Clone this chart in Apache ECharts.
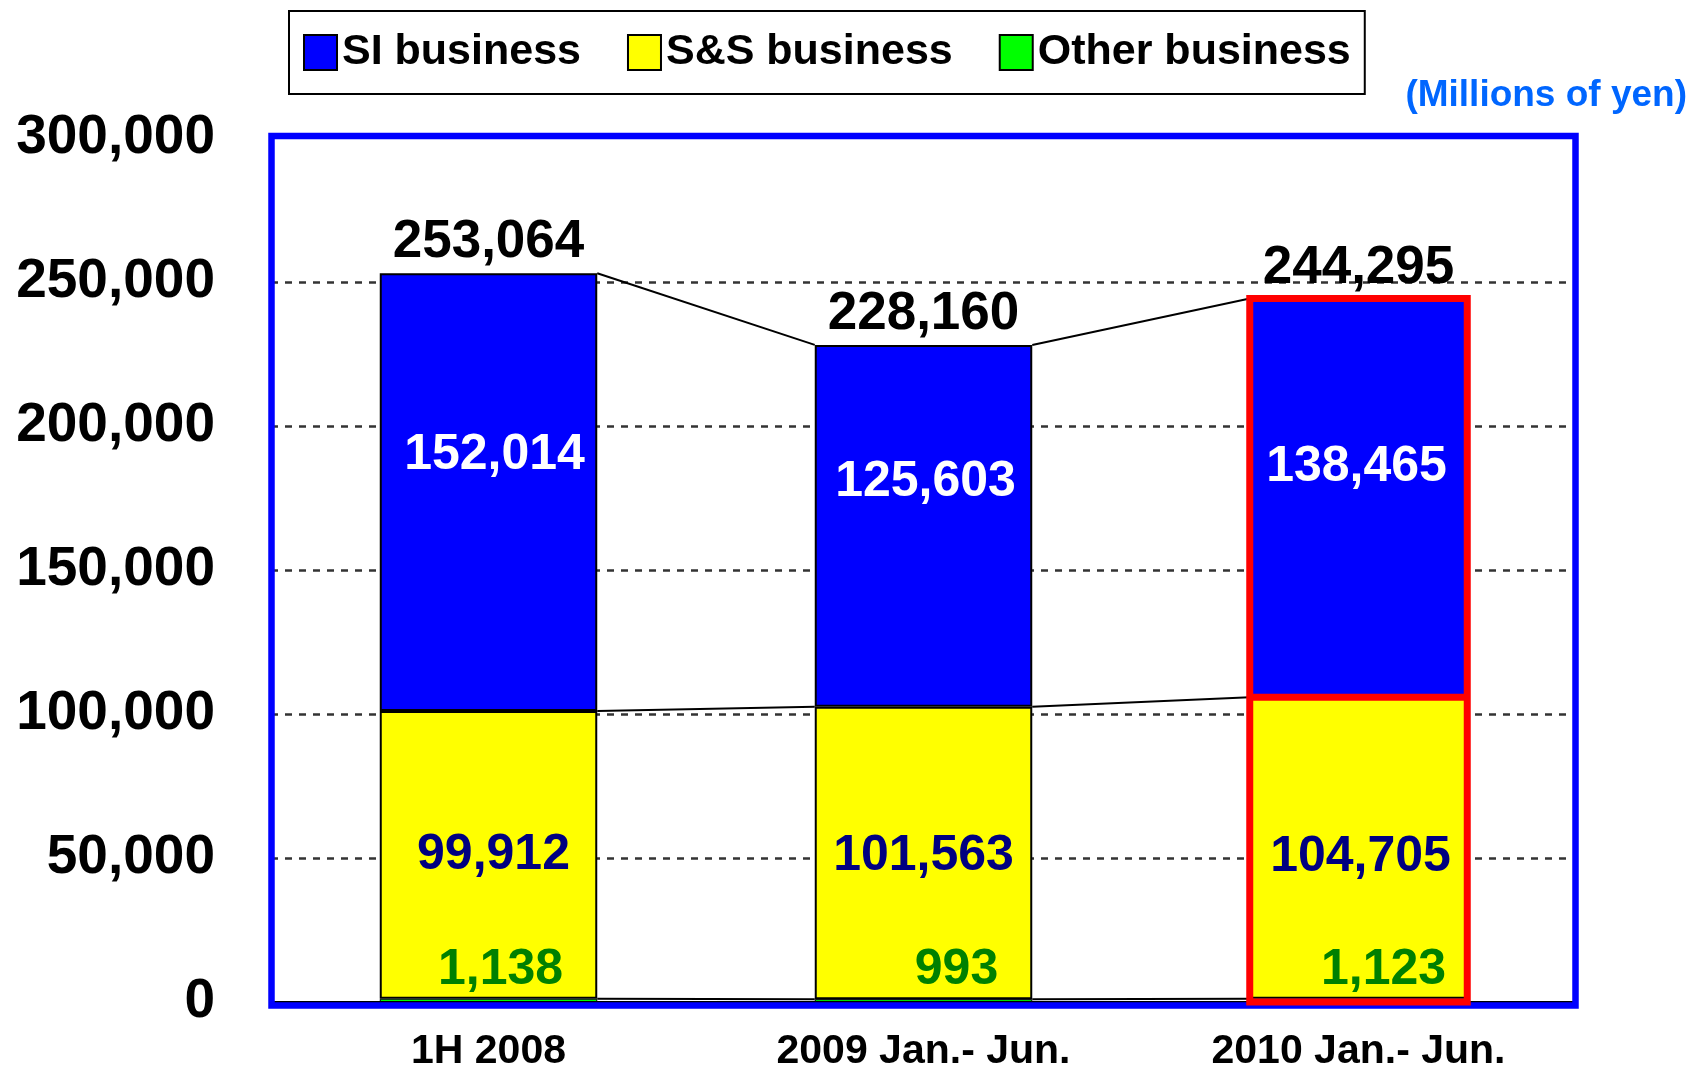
<!DOCTYPE html>
<html>
<head>
<meta charset="utf-8">
<title>Net sales by segment</title>
<script src="https://cdn.jsdelivr.net/npm/echarts@6/dist/echarts.min.js"></script>
<style>
	html, body { margin: 0; padding: 0; background: #fff; }
	#main { width: 1692px; height: 1069px; }
</style>
</head>
<body>
<div id="main"></div>
<script>
	var categories = ['1H 2008', '2009 Jan.- Jun.', '2010 Jan.- Jun.'];
	var siValues = [152014, 125603, 138465];
	var ssValues = [99912, 101563, 104705];
	var otherValues = [1138, 993, 1123];
	var totals = [253064, 228160, 244295];
	var yTicks = [0, 50000, 100000, 150000, 200000, 250000, 300000];

	// label placement tweaks (styles only, not data)
	var siLabelPos = ['41.5%', '37.4%', '42.2%'];
	var siLabelShift = [[6, 0], [2, 2], [-2, 0]];
	var ssLabelShift = [[5, 0], [0, 3], [2, 9]];
	var otherLabelShift = [12, 33, 25];

	var FONT = '"Liberation Sans", Arial, sans-serif';
	var highlightIndex = 2;

	function fmt(v) {
		return Number(v).toLocaleString('en-US');
	}

	function withLabel(arr, labelFn) {
		return arr.map(function (v, i) {
			return { value: v, label: labelFn(i) };
		});
	}

	// stack tops for the connector lines
	var connectorData = categories.map(function (c, i) {
		var t1 = otherValues[i];
		var t2 = t1 + ssValues[i];
		var t3 = t2 + siValues[i];
		return [i, t1, t2, t3];
	});
	var totalData = totals.map(function (v, i) { return [i, v]; });

	var chart = echarts.init(document.getElementById('main'));

	var option = {
		animation: false,
		textStyle: { fontFamily: FONT },
		title: {
			text: '(Millions of yen)',
			right: 5,
			top: 77,
			padding: 0,
			textStyle: {
				color: '#0066ff',
				fontSize: 37,
				fontWeight: 'bold',
				fontFamily: FONT
			}
		},
		legend: {
			data: ['SI business', 'S&S business', 'Other business'],
			icon: 'rect',
			left: 289,
			top: 11,
			padding: [20, 14, 20, 14],
			itemGap: 46,
			itemWidth: 33,
			itemHeight: 35,
			borderColor: '#000',
			borderWidth: 2,
			itemStyle: { borderColor: '#000', borderWidth: 2 },
			textStyle: {
				color: '#000',
				fontSize: 43,
				fontWeight: 'bold',
				fontFamily: FONT
			}
		},
		graphic: [{
			type: 'rect',
			z: 1,
			shape: { x: 271.5, y: 136, width: 1304, height: 869.5 },
			style: { fill: 'none', stroke: '#0000ff', lineWidth: 6.5 }
		}],
		grid: {
			left: 271,
			right: 116,
			top: 138,
			bottom: 67,
			containLabel: false,
			outerBoundsMode: 'none'
		},
		xAxis: {
			type: 'category',
			data: categories,
			axisLine: { show: true, lineStyle: { color: '#000', width: 2 } },
			axisTick: { show: false },
			axisLabel: {
				margin: 29,
				color: '#000',
				fontSize: 41,
				fontWeight: 'bold',
				fontFamily: FONT
			}
		},
		yAxis: {
			type: 'value',
			min: yTicks[0],
			max: yTicks[yTicks.length - 1],
			interval: yTicks[1] - yTicks[0],
			axisLine: { show: false },
			axisTick: { show: false },
			axisLabel: {
				margin: 56,
				color: '#000',
				fontSize: 55,
				fontWeight: 'bold',
				fontFamily: FONT,
				formatter: function (v) { return fmt(v); }
			},
			splitLine: {
				show: true,
				showMinLine: false,
				showMaxLine: false,
				lineStyle: { color: '#333', width: 2.5, type: [7, 7] }
			}
		},
		series: [
			{
				name: 'Other business',
				type: 'bar',
				stack: 'sales',
				barWidth: '50%',
				itemStyle: { color: '#00ff00', borderColor: '#000', borderWidth: 1 },
				label: {
					show: true,
					position: 'top',
					distance: 5,
					color: '#008000',
					fontSize: 50,
					fontWeight: 'bold',
					fontFamily: FONT,
					formatter: function (p) { return fmt(p.value); }
				},
				data: withLabel(otherValues, function (i) {
					return { offset: [otherLabelShift[i], 1] };
				})
			},
			{
				name: 'S&S business',
				type: 'bar',
				stack: 'sales',
				barWidth: '50%',
				itemStyle: { color: '#ffff00', borderColor: '#000', borderWidth: 2 },
				label: {
					show: true,
					position: 'inside',
					color: '#000080',
					fontSize: 50,
					fontWeight: 'bold',
					fontFamily: FONT,
					formatter: function (p) { return fmt(p.value); }
				},
				data: withLabel(ssValues, function (i) {
					return { offset: ssLabelShift[i] };
				})
			},
			{
				name: 'SI business',
				type: 'bar',
				stack: 'sales',
				barWidth: '50%',
				itemStyle: { color: '#0000ff', borderColor: '#000', borderWidth: 2 },
				label: {
					show: true,
					align: 'center',
					verticalAlign: 'middle',
					color: '#fff',
					fontSize: 50,
					fontWeight: 'bold',
					fontFamily: FONT,
					formatter: function (p) { return fmt(p.value); }
				},
				data: withLabel(siValues, function (i) {
					return { position: ['50%', siLabelPos[i]], offset: siLabelShift[i] };
				})
			},
			{
				name: 'total',
				type: 'custom',
				z: 5,
				encode: { x: 0, y: 1 },
				renderItem: function (params, api) {
					var p = api.coord([api.value(0), api.value(1)]);
					return {
						type: 'text',
						x: p[0],
						y: p[1] - 4,
						style: {
							text: fmt(api.value(1)),
							fill: '#000',
							fontSize: 53,
							fontWeight: 'bold',
							fontFamily: FONT,
							align: 'center',
							verticalAlign: 'bottom'
						}
					};
				},
				data: totalData
			},
			{
				name: 'connectors',
				type: 'custom',
				z: 4,
				encode: { x: 0, y: 3 },
				renderItem: function (params, api) {
					var i = params.dataIndexInside;
					if (i >= params.dataInsideLength - 1) return null;
					var half = api.size([1, 0])[0] * 0.25;
					var children = [];
					for (var d = 1; d <= 3; d++) {
						var p0 = api.coord([api.value(0, i), api.value(d, i)]);
						var p1 = api.coord([api.value(0, i + 1), api.value(d, i + 1)]);
						children.push({
							type: 'line',
							shape: { x1: p0[0] + half, y1: p0[1], x2: p1[0] - half, y2: p1[1] },
							style: { stroke: '#000', lineWidth: 2 }
						});
					}
					return { type: 'group', children: children };
				},
				data: connectorData
			},
			{
				// red outline around the latest period
				name: 'highlight',
				type: 'custom',
				z: 6,
				encode: { x: 0, y: 3 },
				renderItem: function (params, api) {
					var i = params.dataIndexInside;
					if (i !== highlightIndex) return null;
					var half = api.size([1, 0])[0] * 0.25;
					var base = api.coord([api.value(0, i), 0]);
					var mid = api.coord([api.value(0, i), api.value(2, i)]);
					var top = api.coord([api.value(0, i), api.value(3, i)]);
					var red = { stroke: '#ff0000', lineWidth: 7, fill: 'none' };
					return {
						type: 'group',
						children: [
							{
								type: 'rect',
								shape: { x: top[0] - half, y: top[1], width: half * 2, height: base[1] - top[1] },
								style: red
							},
							{
								type: 'line',
								shape: { x1: mid[0] - half, y1: mid[1], x2: mid[0] + half, y2: mid[1] },
								style: { stroke: '#ff0000', lineWidth: 7 }
							}
						]
					};
				},
				data: connectorData
			}
		]
	};

	chart.setOption(option);
	window.addEventListener('resize', function () {
		chart.resize();
	});
</script>
</body>
</html>
